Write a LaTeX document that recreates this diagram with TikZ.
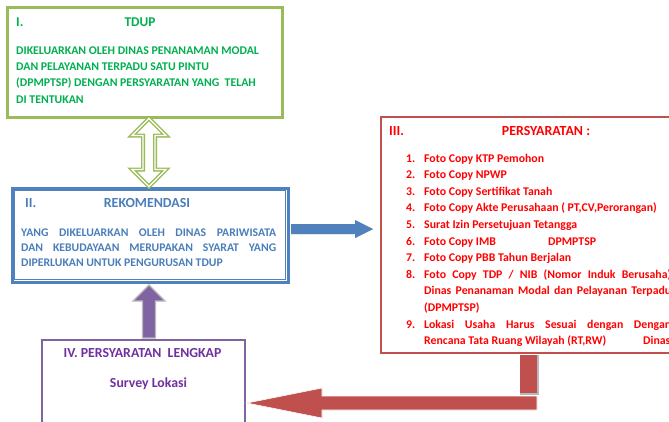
\documentclass[tikz,border=0pt]{standalone}
\usepackage{fontspec}
\setmainfont{Carlito}
\usetikzlibrary{calc}
\definecolor{grnB}{HTML}{9BBB59}
\definecolor{grnT}{HTML}{00B050}
\definecolor{bluB}{HTML}{4F81BD}
\definecolor{bluT}{HTML}{4A7EBB}
\definecolor{redB}{HTML}{C0504D}
\definecolor{redT}{HTML}{FF0000}
\definecolor{purB}{HTML}{8064A2}
\definecolor{purT}{HTML}{7030A0}
\definecolor{shad}{HTML}{B8B8B8}
\begin{document}
\begin{tikzpicture}[x=1pt,y=-1pt,
  box/.style={draw, rectangle, fill=white, inner sep=0pt, anchor=north west},
  txt/.style={anchor=base west, inner sep=0pt},
  gtxt/.style={txt, text=grnT, font=\bfseries\fontsize{11.8}{14}\selectfont},
  gtit/.style={txt, text=grnT, font=\bfseries\fontsize{13.4}{16}\selectfont},
  btxt/.style={txt, text=bluT, font=\bfseries\fontsize{11.7}{14}\selectfont},
  btit/.style={txt, text=bluT, font=\bfseries\fontsize{13.9}{16}\selectfont},
  rtxt/.style={txt, text=redT, font=\bfseries\fontsize{11.8}{14}\selectfont},
  rtit/.style={txt, text=redT, font=\bfseries\fontsize{13.9}{16}\selectfont},
  ptit/.style={txt, text=purT, font=\bfseries\fontsize{13.8}{16}\selectfont},
  shadowpoly/.style={fill=shad, draw=none},
]
\path[use as bounding box] (0,0) rectangle (669,421);
\fill[white] (0,0) rectangle (669,421);
\clip (0,0) rectangle (669,421);

% ---------- boxes ----------
\node[box, draw=grnB, line width=2.5pt, minimum width=275pt, minimum height=110pt] (green) at (6,6) {};
\node[box, draw=bluB, line width=3pt, minimum width=276pt, minimum height=94pt] (blue) at (10.5,186.5) {};
\draw[bluB, line width=1pt] ($(blue.north west)+(4,4)$) rectangle ($(blue.south east)+(-4,-4)$);
\node[box, draw=redB, line width=2pt, minimum width=320pt, minimum height=236pt] (red) at (380,116) {};
\node[box, draw=purB, line width=2pt, minimum width=203pt, minimum height=100pt] (purple) at (41,339) {};

% ---------- green double arrow ----------
\coordinate (dT) at (149,0 |- green.south);
\coordinate (dB) at (149,0 |- blue.north);
\draw[grnB, line width=1.3pt, double=white, double distance=1.4pt, fill=white, line join=miter]
  (dT) -- ($(dT)+(17,17)$) -- ($(dT)+(6,17)$) -- ($(dB)+(6,-17)$) -- ($(dB)+(17,-17)$)
  -- (dB) -- ($(dB)+(-17,-17)$) -- ($(dB)+(-6,-17)$) -- ($(dT)+(-6,17)$) -- ($(dT)+(-17,17)$) -- cycle;

% ---------- blue arrow ----------
\coordinate (bS) at ($(blue.east |- 0,229)+(1.5,0)$);
\coordinate (bE) at ($(red.west |- 0,229)+(-7,0)$);
\begin{scope}[shift={(2,3)}]
\fill[shad] (bS) ++(0,-5) -- ($(bE)+(-18,-5)$) -- ($(bE)+(-18,-9)$) -- (bE) -- ($(bE)+(-18,9)$) -- ($(bE)+(-18,5)$) -- ($(bS)+(0,5)$) -- cycle;
\end{scope}
\fill[bluB] (bS) ++(0,-5) -- ($(bE)+(-18,-5)$) -- ($(bE)+(-18,-9)$) -- (bE) -- ($(bE)+(-18,9)$) -- ($(bE)+(-18,5)$) -- ($(bS)+(0,5)$) -- cycle;

% ---------- purple arrow ----------
\coordinate (pT) at ($(149,0 |- blue.south)+(0,1.5)$);
\coordinate (pB) at ($(149,0 |- purple.north)+(0,-1)$);
\draw[shad, line width=1.2pt, fill=purB, line join=miter]
  (pT) -- ($(pT)+(16,16)$) -- ($(pT)+(6.5,16)$) -- ($(pB)+(6.5,0)$) -- ($(pB)+(-6.5,0)$)
  -- ($(pT)+(-6.5,16)$) -- ($(pT)+(-16,16)$) -- cycle;

% ---------- red elbow arrow ----------
\coordinate (rV) at ($(528.5,0 |- red.south)+(0,1)$);
\coordinate (rC) at (537,403);
\coordinate (rT) at ($(purple.east |- 0,403)+(1,0)$);
\begin{scope}[shift={(1.5,2)}]
\fill[shad] ($(rV)+(-8.5,0)$) rectangle (537,393);
\fill[shad] (rC) ++(0,-7) -- ($(rT)+(75,-7)$) -- ($(rT)+(75,-15)$) -- (rT) -- ($(rT)+(75,15)$) -- ($(rT)+(75,7)$) -- ($(rC)+(0,7)$) -- cycle;
\end{scope}
\fill[redB] ($(rV)+(-8.5,0)$) rectangle (537,393);
\draw[white, line width=0.6pt, fill=redB] (rC) ++(0,-7) -- ($(rT)+(75,-7)$) -- ($(rT)+(75,-15)$) -- (rT) -- ($(rT)+(75,15)$) -- ($(rT)+(75,7)$) -- ($(rC)+(0,7)$) -- cycle;

% ---------- green text ----------
\node[gtit] (gI) at (16,26.5) {I.};
\node[gtit, anchor=base] (gTitle) at (140,26.5) {TDUP};
\node[gtxt] (g1) at (16,54.5) {DIKELUARKAN OLEH DINAS PENANAMAN MODAL};
\node[gtxt] (g2) at (16,70.5) {DAN PELAYANAN TERPADU SATU PINTU};
\node[gtxt] (g3) at (16,86.5) {(DPMPTSP) DENGAN PERSYARATAN YANG\ \ TELAH};
\node[gtxt] (g4) at (16,103.5) {DI TENTUKAN};

% ---------- blue text ----------
\node[btit] (bII) at (25,207.5) {II.};
\node[btit, anchor=base] (bTitle) at (147,207.5) {REKOMENDASI};
\node[btxt] (b1) at (21,236.5) {\makebox[255pt][s]{YANG DIKELUARKAN OLEH DINAS PARIWISATA}};
\node[btxt] (b2) at (21,251.5) {\makebox[255pt][s]{DAN KEBUDAYAAN MERUPAKAN SYARAT YANG}};
\node[btxt] (b3) at (21,266.5) {DIPERLUKAN UNTUK PENGURUSAN TDUP};

% ---------- red text ----------
\node[rtit] (rIII) at (389,135.5) {III.};
\node[rtit, anchor=base] (rTitle) at (546,135.5) {PERSYARATAN :};
\node[rtxt] (n1) at (406,162) {1.};
\node[rtxt] (t1) at (424,162) {Foto Copy KTP Pemohon};
\node[rtxt] (n2) at (406,178.6) {2.};
\node[rtxt] (t2) at (424,178.6) {Foto Copy NPWP};
\node[rtxt] (n3) at (406,195.2) {3.};
\node[rtxt] (t3) at (424,195.2) {Foto Copy Sertifikat Tanah};
\node[rtxt] (n4) at (406,211.8) {4.};
\node[rtxt] (t4) at (424,211.8) {Foto Copy Akte Perusahaan ( PT,CV,Perorangan)};
\node[rtxt] (n5) at (406,228.4) {5.};
\node[rtxt] (t5) at (424,228.4) {Surat Izin Persetujuan Tetangga};
\node[rtxt] (n6) at (406,245) {6.};
\node[rtxt] (t6) at (424,245) {\makebox[124pt][l]{Foto Copy IMB}DPMPTSP};
\node[rtxt] (n7) at (406,261.6) {7.};
\node[rtxt] (t7) at (424,261.6) {Foto Copy PBB Tahun Berjalan};
\node[rtxt] (n8) at (406,278.2) {8.};
\node[rtxt] (t8) at (424,278.2) {\makebox[247pt][s]{Foto Copy TDP / NIB (Nomor Induk Berusaha)}};
\node[rtxt] (t8b) at (424,294.8) {\makebox[247pt][s]{Dinas Penanaman Modal dan Pelayanan Terpadu}};
\node[rtxt] (t8c) at (424,311.4) {(DPMPTSP)};
\node[rtxt] (n9) at (406,328) {9.};
\node[rtxt] (t9) at (424,328) {\makebox[247pt][s]{Lokasi Usaha Harus Sesuai dengan Dengan}};
\node[rtxt] (t9b) at (424,344.6) {\makebox[219pt][l]{Rencana Tata Ruang Wilayah (RT,RW)}Dinas};

% ---------- purple text ----------
\node[ptit, anchor=base] (pTitle) at (142.5,357) {IV. PERSYARATAN\ \ LENGKAP};
\node[ptit, anchor=base] (pSub) at (148.5,387) {Survey Lokasi};
\end{tikzpicture}
\end{document}
